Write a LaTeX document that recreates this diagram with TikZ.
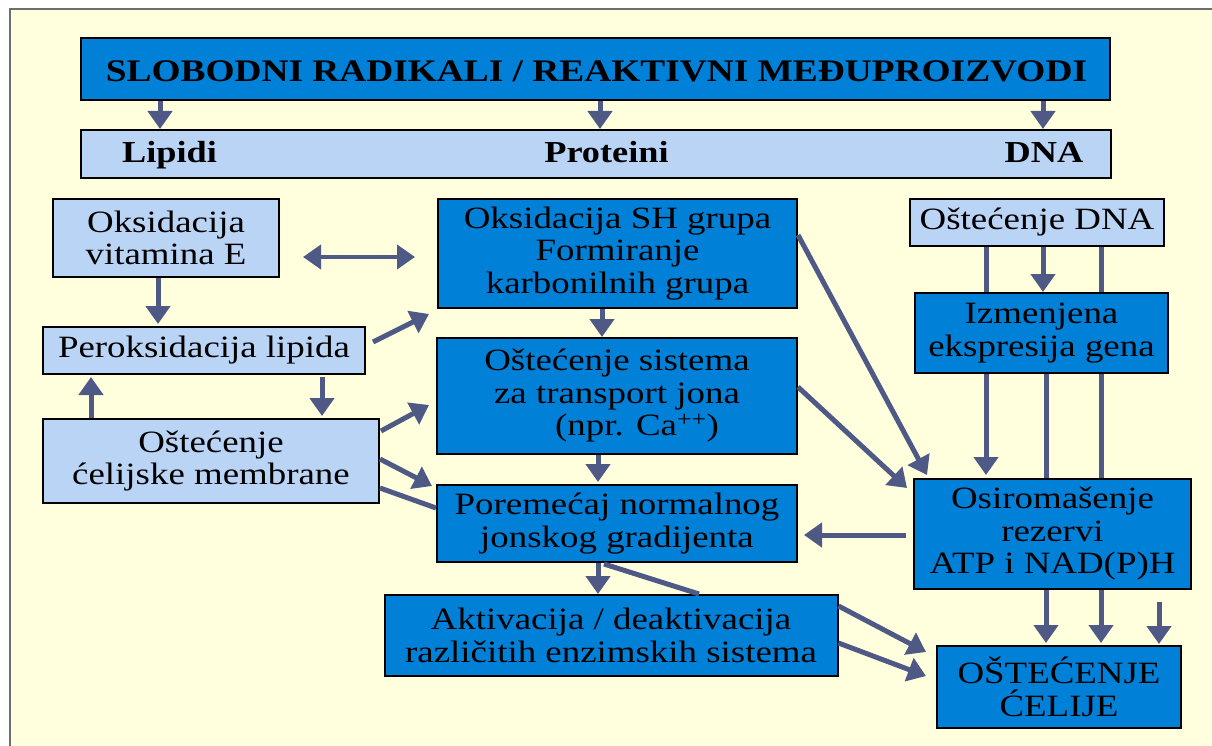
\documentclass[tikz,border=0pt]{standalone}
\usepackage{fontspec}
\setmainfont[FakeStretch=1.19]{Liberation Serif}
\usetikzlibrary{arrows.meta}
\definecolor{bgc}{RGB}{255,255,221}
\definecolor{dk}{RGB}{0,128,215}
\definecolor{lt}{RGB}{186,212,245}
\definecolor{ac}{RGB}{79,89,134}
\definecolor{fr}{RGB}{110,110,110}
\tikzset{
  box/.style={draw=black, line width=2pt, inner sep=0pt, align=center,
    font=\fontsize{31}{32.5}\selectfont},
  darkbox/.style={box, fill=dk},
  lightbox/.style={box, fill=lt},
  arr/.style={draw=ac, line width=5pt, -{Triangle[width=24pt,length=18pt]}},
  dbl/.style={draw=ac, line width=4pt, {Triangle[width=24pt,length=18pt]}-{Triangle[width=24pt,length=18pt]}},
  ln/.style={draw=ac, line width=5pt},
  lbl/.style={font=\fontsize{30.5}{32}\selectfont\bfseries, inner sep=0pt, anchor=base}
}
\begin{document}
\begin{tikzpicture}[x=1pt,y=-1pt]
\useasboundingbox (0,0) rectangle (1212,746);
\fill[white] (0,0) rectangle (1212,746);
\fill[bgc] (10,9) rectangle (1212,746);
\draw[fr, line width=1.2pt] (10,746) -- (10,9) -- (1212,9);

% nodes
\node[darkbox, minimum width=1029pt, minimum height=62pt] (top) at (595.5,69) {};
\node[lbl, font=\fontsize{31.4}{32}\selectfont\bfseries] (toptext) at (596.5,82) {SLOBODNI RADIKALI / REAKTIVNI MEĐUPROIZVODI};
\node[lightbox, minimum width=1030pt, minimum height=48pt] (bar) at (596,154) {};
\node[lbl] (lip) at (169.5,163) {Lipidi};
\node[lbl] (pro) at (606.5,163) {Proteini};
\node[lbl] (dnal) at (1044,163) {DNA};

\node[lightbox, minimum width=226pt, minimum height=78pt] (vitE) at (166,238) {Oksidacija\\vitamina E};
\node[lightbox, minimum width=322pt, minimum height=47pt] (perok) at (204,350.5) {Peroksidacija lipida};
\node[lightbox, minimum width=336pt, minimum height=84pt] (memb) at (211,461) {Oštećenje\\ćelijske membrane};

\node[darkbox, minimum width=359pt, minimum height=109pt] (sh) at (617.5,253.5) {Oksidacija SH grupa\\Formiranje\\karbonilnih grupa};
\node[darkbox, minimum width=360pt, minimum height=116pt] (sist) at (617,396) {Oštećenje sistema\\za transport jona\\\hspace*{40pt}(npr. Ca\textsuperscript{++})};
\node[darkbox, minimum width=360pt, minimum height=77pt] (por) at (617,523.5) {Poremećaj normalnog\\jonskog gradijenta};
\node[darkbox, minimum width=453pt, minimum height=81pt] (akt) at (611,635.5) {Aktivacija / deaktivacija\\različitih enzimskih sistema};

\node[lightbox, minimum width=254pt, minimum height=47pt] (dna) at (1037,222.5) {Oštećenje DNA};
\node[darkbox, minimum width=253pt, minimum height=80pt] (izm) at (1041.5,333) {Izmenjena\\ekspresija gena};
\node[darkbox, minimum width=277pt, minimum height=110pt] (osi) at (1052.5,534) {Osiromašenje\\rezervi\\ATP i NAD(P)H};
\node[darkbox, minimum width=244pt, minimum height=82pt] (cel) at (1059,687) {OŠTEĆENJE\\ĆELIJE};
\coordinate (c1159) at (1159,602);

% top -> bar
\draw[arr] ([xshift=-435.5pt]top.south) -- ([xshift=-436pt]bar.north);
\draw[arr] ([xshift=4.5pt]top.south) -- ([xshift=4pt]bar.north);
\draw[arr] ([xshift=447.5pt]top.south) -- ([xshift=447pt]bar.north);

% left column
\draw[arr] ([xshift=-8pt]vitE.south) -- ([xshift=-46pt,yshift=2pt]perok.north);
\draw[dbl] ([xshift=23pt,yshift=-19pt]vitE.east) -- ([xshift=-22pt,yshift=-3.5pt]sh.west);
\draw[arr] ([xshift=7pt,yshift=8.5pt]perok.east) -- ([xshift=-8pt,yshift=-5pt]sh.south west);
\draw[arr] ([xshift=118pt,yshift=-2pt]perok.south) -- ([xshift=111pt,yshift=2pt]memb.north);
\draw[arr] ([xshift=-120pt]memb.north) -- ([xshift=-113pt,yshift=-2pt]perok.south);
\draw[arr] ([xshift=1pt,yshift=30pt]memb.east) -- ([xshift=-7pt,yshift=-9pt]sist.west);
\draw[arr] ([yshift=2pt]memb.east) -- ([xshift=-4pt,yshift=-2pt]por.north west);
\draw[ln] ([yshift=-27pt]memb.east) -- ([yshift=15.5pt]por.west);

% middle column
\draw[arr] ([xshift=-15.5pt]sh.south) -- ([xshift=-15pt]sist.north);
\draw[arr] ([xshift=-19pt]sist.south) -- ([xshift=-19pt,yshift=2pt]por.north);
\draw[arr] ([xshift=-19pt]por.south) -- ([xshift=-13pt]akt.north);
\draw[ln] ([xshift=-13pt,yshift=-1pt]por.south) -- ([xshift=88pt]akt.north);
\draw[arr] ([yshift=29.5pt]akt.east) -- ([xshift=-10pt,yshift=35pt]cel.west);
\draw[arr] ([yshift=-7.5pt]akt.east) -- ([xshift=-10pt,yshift=11pt]cel.west);
\draw[arr] ([yshift=18.5pt]sh.east) -- ([xshift=14pt,yshift=3pt]osi.north west);
\draw[arr] ([yshift=9pt]sist.east) -- ([xshift=-6pt,yshift=46pt]osi.west);
\draw[arr] ([xshift=-7pt,yshift=-1pt]osi.west) -- ([xshift=6pt,yshift=-11.5pt]por.east);

% right column
\draw[ln] ([xshift=-51pt]dna.south) -- ([xshift=-55.5pt]izm.north);
\draw[arr] ([xshift=6pt]dna.south) -- ([xshift=1.5pt]izm.north);
\draw[ln] ([xshift=64pt]dna.south) -- ([xshift=59.5pt]izm.north);
\draw[arr] ([xshift=-55.5pt]izm.south) -- ([xshift=-66.5pt,yshift=3pt]osi.north);
\draw[ln] ([xshift=4.5pt]izm.south) -- ([xshift=-6.5pt]osi.north);
\draw[ln] ([xshift=59.5pt]izm.south) -- ([xshift=48.5pt]osi.north);
\draw[arr] ([xshift=-6.5pt]osi.south) -- ([xshift=-13pt,yshift=2pt]cel.north);
\draw[arr] ([xshift=48.5pt]osi.south) -- ([xshift=42pt,yshift=2pt]cel.north);
\draw[arr] (c1159) -- ([xshift=100pt,yshift=1pt]cel.north);
\end{tikzpicture}
\end{document}
